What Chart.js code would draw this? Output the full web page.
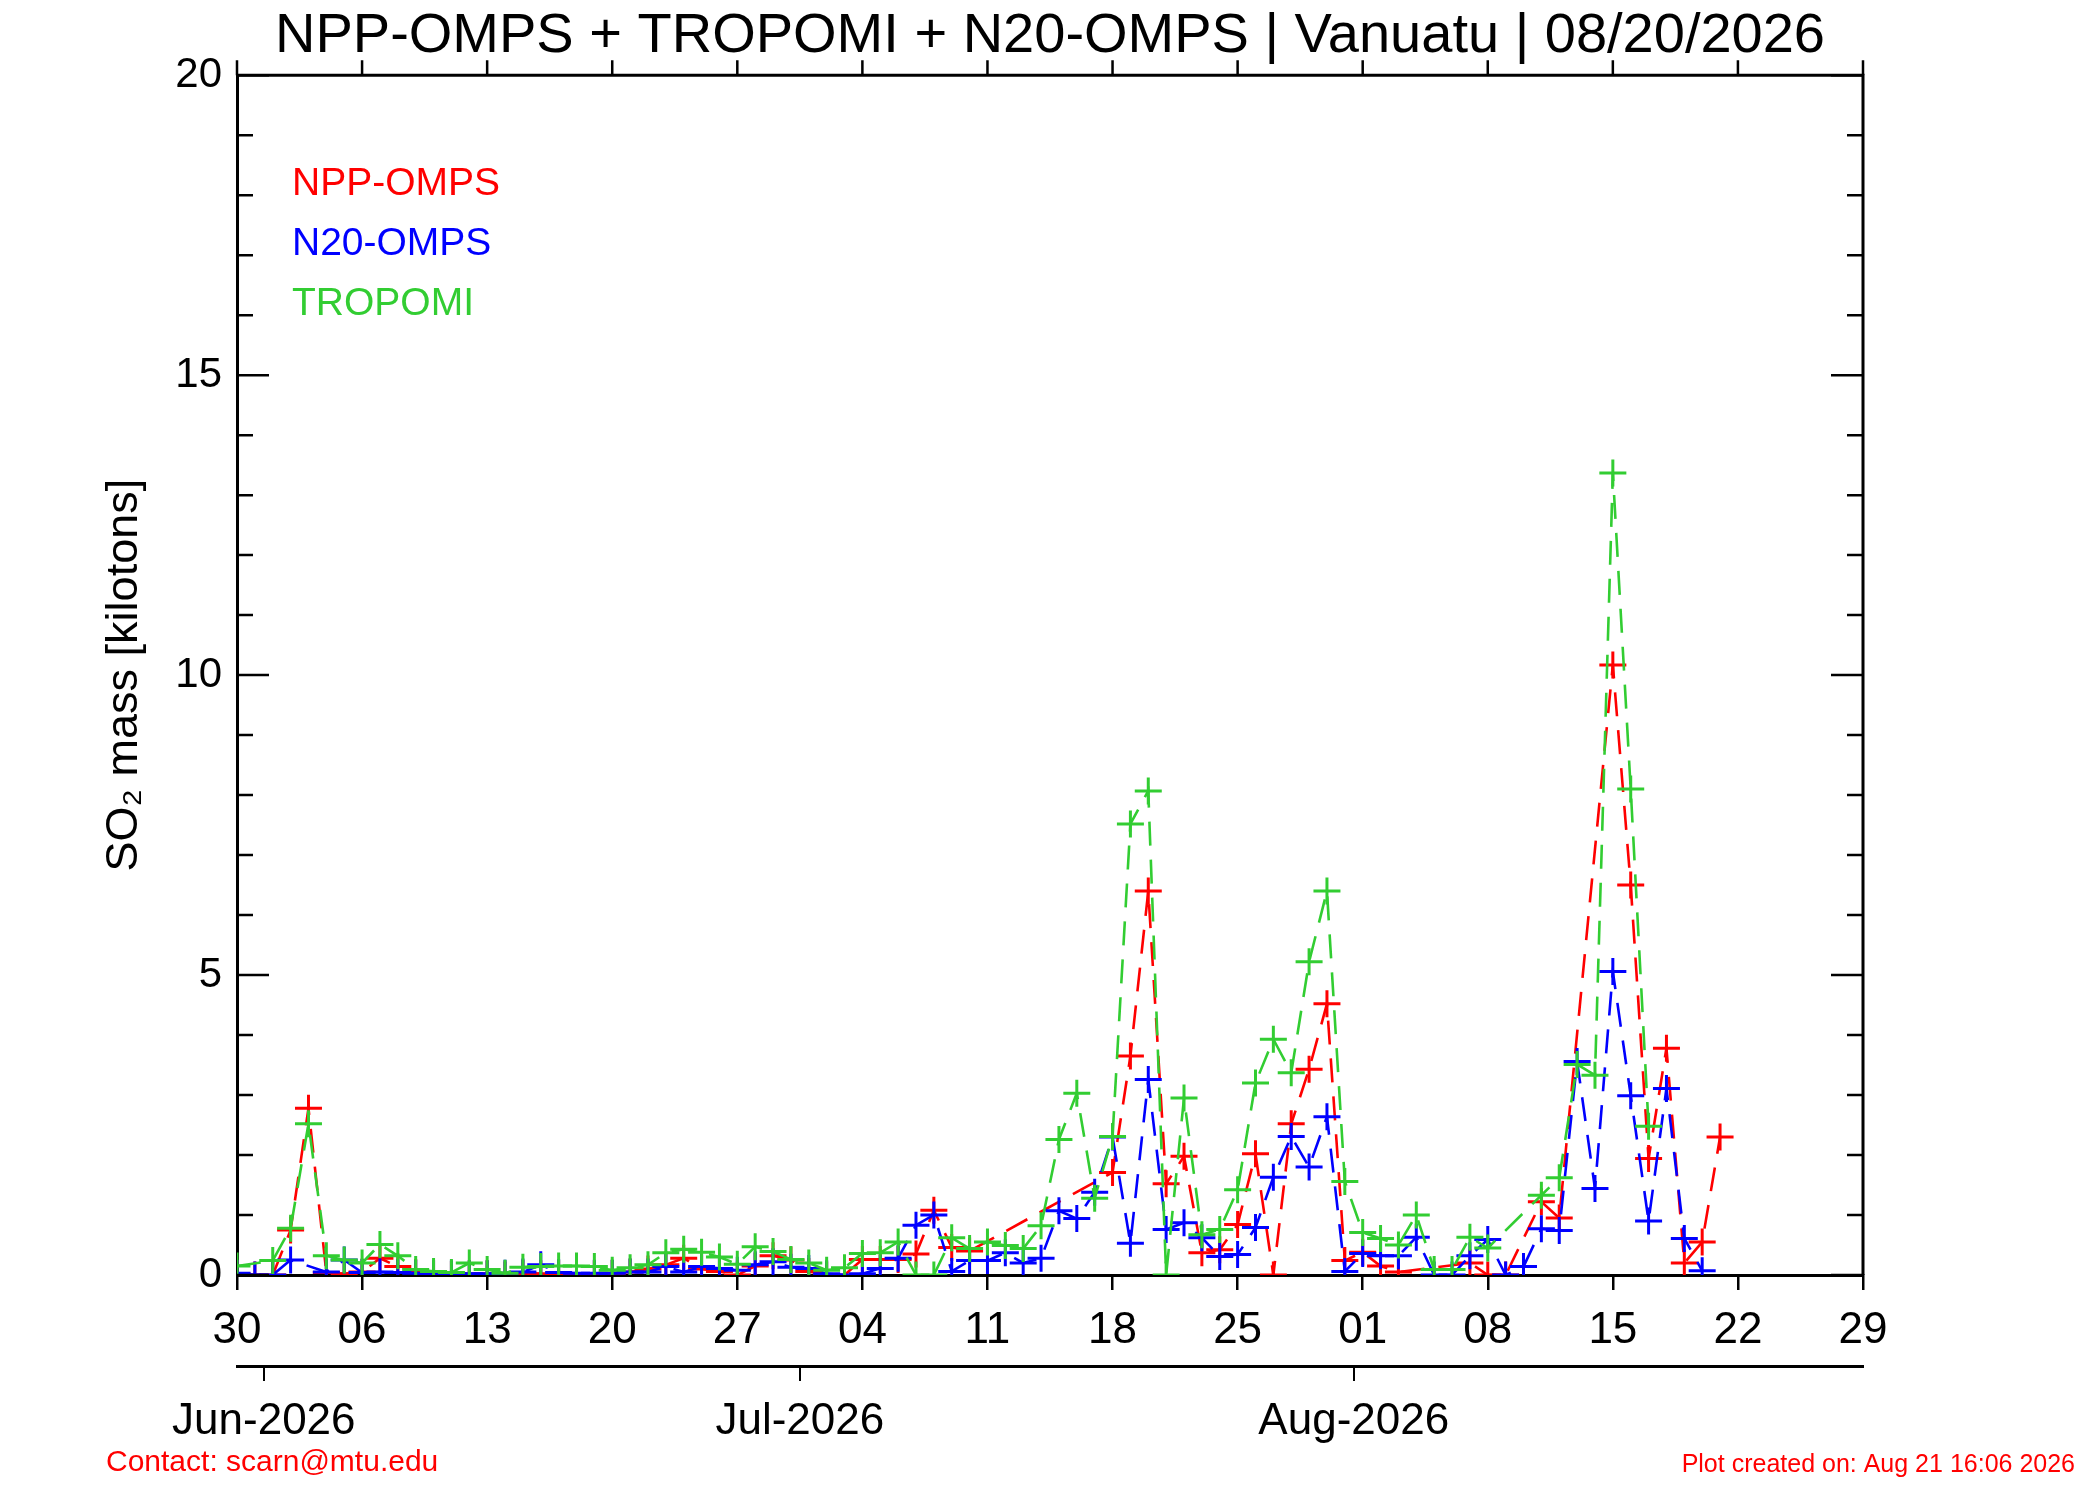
<!DOCTYPE html>
<html>
<head>
<meta charset="utf-8">
<title>SO2 mass - Vanuatu</title>
<script src="https://cdn.jsdelivr.net/npm/chart.js@4.4.1/dist/chart.umd.min.js"></script>
<style>
  html, body { margin: 0; padding: 0; background: #fff; }
</style>
</head>
<body>
<canvas id="so2Chart" width="2100" height="1500"></canvas>
<script>
// one value per day, index 0 = 30 May 2026 ; null = no overpass that day
const nppOmps = [
  0.02, 0, 0, 0.75, 2.78, 0.04, 0.02,
  0.05, 0.28, 0.14, 0.04, 0.02, 0.01, 0.02,
  0.02, 0, 0.03, 0.02, 0.02, 0.02, 0.02,
  0.03, 0.05, 0.1, 0.17, 0.28, 0.1, 0.06,
  0, 0.15, 0.32, 0.25, 0.06, 0, 0,
  0.26, 0.26, 0.26, 0.35, 1.08, 0.46, 0.4,
  null, null, null, null, null, null, null,
  1.71, 3.65, 6.4, 1.52, 1.98, 0.37, 0.42,
  0.84, 2.02, 0, 2.52, 3.43, 4.52, 0.24,
  0.38, 0.15, 0.05, null, null, null, 0.2,
  0, 0, null, 1.22, 0.95, null, null,
  10.17, 6.5, 1.94, 3.78, 0.2, 0.55, 2.3
];
const n20Omps = [
  0.03, 0, 0, 0.25, null, 0.05, 0.25,
  0.04, 0.05, 0.04, 0.03, 0.02, 0.02, 0.02,
  0.02, 0.03, 0.05, 0.17, 0.04, 0.03, 0.03,
  0.03, 0.05, 0.05, 0.14, 0.05, 0.14, 0.11,
  0.08, 0.17, 0.22, 0.13, 0.11, 0.02, 0,
  0.02, 0.11, 0.28, 0.83, 1.0, 0.06, 0.24,
  0.24, 0.37, 0.2, 0.28, 1.07, 0.94, 1.38,
  2.3, 0.53, 3.26, 0.76, 0.87, 0.62, 0.31,
  0.34, 0.79, 1.63, 2.31, 1.8, 2.64, 0.06,
  0.36, 0.32, 0.32, 0.63, 0, 0, 0.32,
  0.59, 0, 0.14, 0.77, 0.74, 3.56, 1.44,
  5.06, 2.99, 0.9, 3.11, 0.61, 0.07
];
const tropomi = [
  0.15, null, 0.24, 0.78, 2.52, 0.32, 0.25,
  0.2, 0.51, 0.32, 0.09, 0.06, 0.04, 0.2,
  0.09, 0.03, 0.13, 0.14, 0.15, 0.15, 0.14,
  0.08, 0.12, 0.17, 0.37, 0.43, 0.38, 0.3,
  0.18, 0.47, 0.39, 0.26, 0.2, 0.08, 0.12,
  0.36, 0.37, 0.55, 0, 0, 0.62, 0.44,
  0.55, 0.49, 0.44, 0.82, 2.26, 3.03, 1.28,
  2.31, 7.52, 8.07, 0, 2.95, 0.67, 0.76,
  1.42, 3.2, 3.93, 3.37, 5.22, 6.4, 1.56,
  0.71, 0.61, 0.5, 1.0, 0.09, 0.09, 0.63,
  0.45, null, null, 1.33, 1.62, 3.51, 3.33,
  13.37, 8.1, 2.48
];

const dayTicks = [0, 7, 14, 21, 28, 35, 42, 49, 56, 63, 70, 77, 84, 91];
const dayLabels = ['30', '06', '13', '20', '27', '04', '11', '18', '25', '01', '08', '15', '22', '29'];
const monthTicks = [1.5, 31.5, 62.5];
const monthLabels = ['Jun-2026', 'Jul-2026', 'Aug-2026'];

const titleText = 'NPP-OMPS + TROPOMI + N20-OMPS | Vanuatu | 08/20/2026';

Chart.defaults.font.family = '"Liberation Sans", Arial, Helvetica, sans-serif';
Chart.defaults.color = '#000';

function toPoints(values) {
  return values.map((v, i) => ({ x: i, y: v }));
}

function series(label, values, color, order) {
  return {
    label: label,
    data: toPoints(values),
    borderColor: color,
    backgroundColor: color,
    borderWidth: 2.6,
    borderDash: [24, 14],
    pointStyle: 'cross',
    pointRadius: 13.5,
    pointBorderWidth: 3,
    pointBorderColor: color,
    tension: 0,
    spanGaps: true,
    order: order
  };
}

// top/right frame, inward y ticks, legend text and footer notes
const decorations = {
  id: 'decorations',
  afterDatasetsDraw(chart) {
    const { ctx, chartArea: a, scales: { x, y } } = chart;
    ctx.save();
    ctx.strokeStyle = '#000';
    ctx.lineWidth = 3;
    ctx.beginPath();
    ctx.moveTo(a.left, a.top);
    ctx.lineTo(a.right, a.top);
    ctx.lineTo(a.right, a.bottom);
    ctx.stroke();

    ctx.lineWidth = 2.5;
    ctx.beginPath();
    x.ticks.forEach(t => {
      const px = x.getPixelForValue(t.value);
      ctx.moveTo(px, a.top);
      ctx.lineTo(px, a.top - 15);
    });
    for (let v = y.min; v <= y.max; v++) {
      const py = y.getPixelForValue(v);
      const len = v % 5 === 0 ? 32 : 16;
      ctx.moveTo(a.left, py);
      ctx.lineTo(a.left + len, py);
      ctx.moveTo(a.right, py);
      ctx.lineTo(a.right - len, py);
    }
    ctx.stroke();
    ctx.restore();
  },
  afterDraw(chart) {
    const { ctx } = chart;
    ctx.save();
    ctx.textBaseline = 'alphabetic';
    ctx.textAlign = 'left';
    ctx.font = '39px "Liberation Sans", Arial, sans-serif';
    chart.data.datasets.forEach((ds, k) => {
      ctx.fillStyle = ds.borderColor;
      ctx.fillText(ds.label, 292, 195 + k * 60);
    });

    ctx.fillStyle = '#ff0000';
    ctx.font = '30px "Liberation Sans", Arial, sans-serif';
    ctx.fillText('Contact: scarn@mtu.edu', 106, 1471);
    ctx.textAlign = 'right';
    ctx.font = '25px "Liberation Sans", Arial, sans-serif';
    ctx.fillText('Plot created on: Aug 21 16:06 2026', 2075, 1472);
    ctx.restore();
  }
};

const ctx = document.getElementById('so2Chart').getContext('2d');

const so2Chart = new Chart(ctx, {
  type: 'line',
  data: {
    datasets: [
      series('NPP-OMPS', nppOmps, '#ff0000', 2),
      series('N20-OMPS', n20Omps, '#0000ff', 1),
      series('TROPOMI', tropomi, '#32cd32', 0)
    ]
  },
  options: {
    responsive: false,
    devicePixelRatio: 1,
    animation: false,
    layout: { padding: 0 },
    plugins: {
      legend: { display: false },
      tooltip: { enabled: false },
      title: {
        display: true,
        text: titleText,
        color: '#000',
        font: { size: 56, weight: 'normal' },
        padding: { top: 3, bottom: 5 }
      }
    },
    scales: {
      x: {
        type: 'linear',
        position: 'bottom',
        weight: 0,
        min: 0,
        max: 91,
        afterBuildTicks: s => { s.ticks = dayTicks.map(v => ({ value: v })); },
        afterFit: s => { s.height = 91; },
        ticks: {
          autoSkip: false,
          maxRotation: 0,
          padding: 14,
          font: { size: 44 },
          callback: (v, i) => dayLabels[i]
        },
        grid: { drawOnChartArea: false, drawTicks: true, tickLength: 15, color: '#000', lineWidth: 2.5 },
        border: { display: true, color: '#000', width: 3 }
      },
      x2: {
        type: 'linear',
        position: 'bottom',
        weight: 1,
        min: 0,
        max: 91,
        afterBuildTicks: s => { s.ticks = monthTicks.map(v => ({ value: v })); },
        afterFit: s => { s.height = 134; },
        ticks: {
          autoSkip: false,
          maxRotation: 0,
          padding: 14,
          font: { size: 44 },
          callback: (v, i) => monthLabels[i]
        },
        grid: { drawOnChartArea: false, drawTicks: true, tickLength: 15, color: '#000', lineWidth: 2 },
        border: { display: true, color: '#000', width: 3 }
      },
      y: {
        type: 'linear',
        position: 'left',
        min: 0,
        max: 20,
        afterFit: s => { s.width = 237; },
        ticks: { stepSize: 5, padding: 15, font: { size: 42 } },
        grid: { drawOnChartArea: false, drawTicks: false },
        border: { display: true, color: '#000', width: 3 },
        title: {
          display: true,
          text: 'SO\u2082 mass [kilotons]',
          color: '#000',
          font: { size: 45 },
          padding: { top: 98, bottom: 0 }
        }
      },
      // empty right-hand margin, keeps the plot box where the reference has it
      yRight: {
        type: 'linear',
        position: 'right',
        min: 0,
        max: 20,
        afterFit: s => { s.width = 237; },
        ticks: { display: false },
        grid: { display: false },
        border: { display: false }
      }
    }
  },
  plugins: [decorations]
});
</script>
</body>
</html>
